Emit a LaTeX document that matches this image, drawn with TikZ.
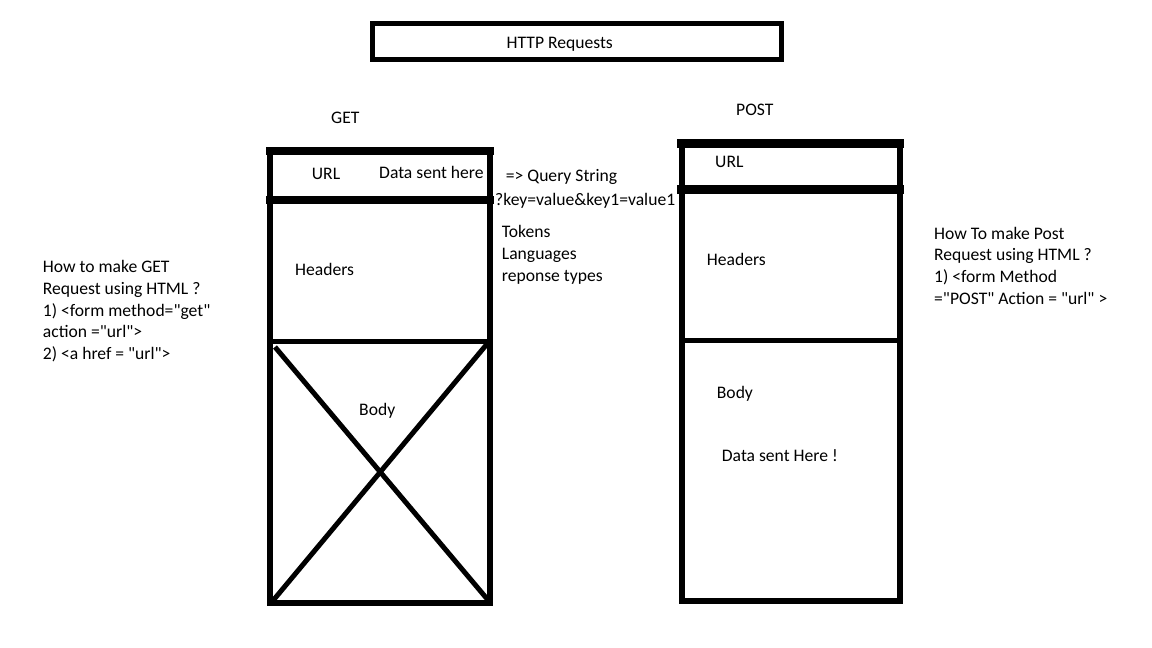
\documentclass[tikz,border=0pt]{standalone}
\usepackage{fontspec}
\setmainfont{Carlito}[Ligatures=TeXOff]
\begin{document}
\begin{tikzpicture}[x=1pt,y=-1pt,
  lbl/.style={anchor=base west,inner sep=0pt,font=\fontsize{17.6}{21}\selectfont},
  frame/.style={draw=black,line cap=rect}]
\useasboundingbox (0,0) rectangle (1152,648);
% title
\draw[frame,line width=5pt] (372.5,23.5) rectangle (781,59.5);
\node[lbl] (title) at (506.5,48.3) {HTTP Requests};
% GET box
\node[lbl] (get) at (331,123) {GET};
\draw[frame,line width=6pt] (270,151) rectangle (489.5,603);
\draw[frame,line width=8pt] (270,151) -- (489.5,151);
\draw[frame,line width=8pt] (270,200) -- (489.5,200);
\draw[frame,line width=5pt] (270,341.5) -- (489.5,341.5);
\draw[line width=5pt] (275,347) -- (488,600);
\draw[line width=5pt] (271,603) -- (487,344);
\node[lbl] (geturl) at (311.7,179) {URL};
\node[lbl] (getdata) at (379,178.5) {Data sent here};
\node[lbl] (gethead) at (295,275) {Headers};
\node[lbl] (getbody) at (359,415) {Body};
% notes around GET
\node[lbl] (qs) at (505.7,181.5) {=> Query String};
\node[lbl] (kv) at (495,205) {?key=value\&key1=value1};
\node[lbl] (tok) at (501.7,237.7) {Tokens};
\node[lbl] (lang) at (501.7,259.7) {Languages};
\node[lbl] (resp) at (501.7,281.7) {reponse types};
\node[lbl] (g1) at (42.7,272.7) {How to make GET};
\node[lbl] (g2) at (42.7,294.3) {Request using HTML ?};
\node[lbl] (g3) at (42.7,316) {1) <form method="get"};
\node[lbl] (g4) at (42.7,337.7) {action ="url">};
\node[lbl] (g5) at (42.7,359.3) {2) <a href = "url">};
% POST box
\node[lbl] (post) at (736,115) {POST};
\draw[frame,line width=6pt] (681.5,143.5) rectangle (899.5,601);
\draw[frame,line width=9pt] (681.5,143.5) -- (899.5,143.5);
\draw[frame,line width=9pt] (681.5,189.5) -- (899.5,189.5);
\draw[frame,line width=5pt] (681.5,340.5) -- (899.5,340.5);
\node[lbl] (posturl) at (715,167.7) {URL};
\node[lbl] (posthead) at (706.7,265) {Headers};
\node[lbl] (postbody) at (716.7,398) {Body};
\node[lbl] (postdata) at (721.7,461.7) {Data sent Here !};
\node[lbl] (p1) at (934,239) {How To make Post};
\node[lbl] (p2) at (934,260.7) {Request using HTML ?};
\node[lbl] (p3) at (934,282.3) {1) <form Method};
\node[lbl] (p4) at (934,304) {="POST" Action = "url" >};
\end{tikzpicture}
\end{document}
